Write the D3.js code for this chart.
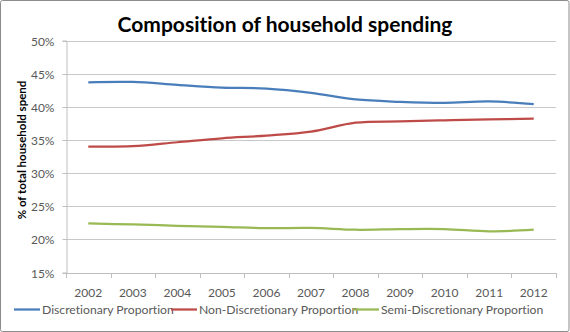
<html>
<head>
    <script src="https://d3js.org/d3.v7.min.js"></script>
</head>
<body style="margin:0">
    <svg id="spend_chart" width="570" height="332"></svg>
</body>
<style>
    text{font-family: Lato, "Open Sans", Arial; font-variant-ligatures: none}
</style>
<script>
    // data
    const years = ['2002','2003','2004','2005','2006','2007','2008','2009','2010','2011','2012']
    const discretionary = [43.7,43.75,43.3,42.9,42.75,42.1,41.1,40.75,40.6,40.8,40.4]
    const nonDiscretionary = [34.0,34.05,34.65,35.25,35.65,36.25,37.6,37.8,37.95,38.1,38.2]
    const semiDiscretionary = [22.4,22.25,22.05,21.9,21.7,21.72,21.45,21.55,21.55,21.2,21.45]
    const seriesNames = ['Discretionary Proportion','Non-Discretionary Proportion','Semi-Discretionary Proportion']
    const yTicks = [15,20,25,30,35,40,45,50]

    const colors = ['#4a7ebb','#be4b48','#98b954']
    const allSeries = [discretionary, nonDiscretionary, semiDiscretionary]

    let svg = d3.select('svg#spend_chart')
    const width = +svg.attr('width')
    const height = +svg.attr('height')
    const margin = {top:40.5, right:14, bottom:59.5, left:66}

    svg.append('rect')
       .attr('x',0.5).attr('y',0.5)
       .attr('width',width-1.5).attr('height',height-1)
       .attr('rx',2)
       .attr('fill','white')
       .attr('stroke','#8c8c8c')

    let x = d3.scaleBand()
              .domain(years)
              .range([margin.left, width-margin.right])
    let y = d3.scaleLinear()
              .domain([15,50])
              .range([height-margin.bottom, margin.top])

    // gridlines
    svg.append('g')
       .selectAll('line.grid')
       .data(yTicks)
       .join('line')
       .attr('class','grid')
       .attr('x1',margin.left).attr('x2',width-margin.right)
       .attr('y1',d=>Math.round(y(d))+0.5).attr('y2',d=>Math.round(y(d))+0.5)
       .attr('stroke','#c8c8c8')

    // y axis
    let yaxis = svg.append('g')
       .attr('transform',`translate(${margin.left+0.5},0)`)
       .call(d3.axisLeft(y).tickValues(yTicks).tickFormat(d=>d+'%').tickSize(4).tickPadding(8))
    yaxis.selectAll('path.domain').attr('stroke','#bfbfbf')
    yaxis.selectAll('.tick line').attr('stroke','#bfbfbf')
    yaxis.selectAll('.tick').attr('transform',d=>`translate(0,${Math.round(y(d))+0.5})`)
    yaxis.selectAll('text').attr('font-size','12px').attr('fill','#595959').attr('dy','0.35em')

    // x axis, ticks between categories
    const xb = height-margin.bottom
    let xaxis = svg.append('g')
    xaxis.append('line')
         .attr('x1',margin.left).attr('x2',width-margin.right)
         .attr('y1',Math.round(xb)+0.5).attr('y2',Math.round(xb)+0.5)
         .attr('stroke','#bfbfbf')
    xaxis.selectAll('line.xtick')
         .data(years.concat(['end']))
         .join('line')
         .attr('class','xtick')
         .attr('x1',(d,i)=>Math.round(margin.left + i*x.step())+0.5)
         .attr('x2',(d,i)=>Math.round(margin.left + i*x.step())+0.5)
         .attr('y1',Math.round(xb)).attr('y2',Math.round(xb)+5)
         .attr('stroke','#bfbfbf')
    xaxis.selectAll('text.xlab')
         .data(years)
         .join('text')
         .attr('class','xlab')
         .attr('x',d=>x(d)+x.bandwidth()/2)
         .attr('y',xb+24)
         .attr('text-anchor','middle')
         .attr('font-size','12px')
         .attr('fill','#595959')
         .text(d=>d)

    // lines
    let line = d3.line()
                 .x((d,i)=>x(years[i])+x.bandwidth()/2)
                 .y(d=>y(d))
                 .curve(d3.curveCatmullRom.alpha(0.5))
    svg.selectAll('path.series')
       .data(allSeries)
       .join('path')
       .attr('class','series')
       .attr('d',line)
       .attr('fill','none')
       .attr('stroke',(d,i)=>colors[i])
       .attr('stroke-width',2.25)

    // titles
    svg.append('text')
       .text('Composition of household spending')
       .attr('x',285).attr('y',32)
       .attr('text-anchor','middle')
       .attr('font-size','21px')
       .attr('font-weight','bold')
       .attr('fill','#000')

    svg.append('text')
       .text('% of total household spend')
       .attr('transform',`translate(26,150) rotate(-90)`)
       .attr('text-anchor','middle')
       .attr('font-size','11.5px')
       .attr('font-weight','bold')
       .attr('fill','#000')

    // legend
    const legendX = [14,171,353]
    let legend = svg.selectAll('g.legend')
                    .data(seriesNames)
                    .join('g')
                    .attr('class','legend')
                    .attr('transform',(d,i)=>`translate(${legendX[i]},309.5)`)
    legend.append('line')
          .attr('x1',0).attr('x2',26)
          .attr('stroke',(d,i)=>colors[i])
          .attr('stroke-width',2.25)
    legend.append('text')
          .attr('x',28).attr('dy','0.35em')
          .attr('font-size','12.2px')
          .attr('fill','#595959')
          .text(d=>d)
</script>
</html>
